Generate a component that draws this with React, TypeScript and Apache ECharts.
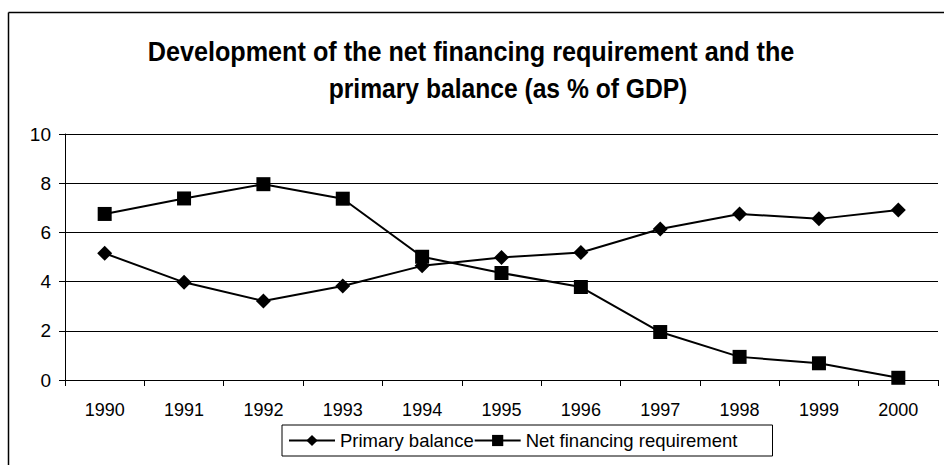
import React, { useEffect, useRef } from "react";
import * as echarts from "echarts";

const years = ["1990", "1991", "1992", "1993", "1994", "1995", "1996", "1997", "1998", "1999", "2000"];
const primaryBalance = [5.15, 3.97, 3.21, 3.82, 4.64, 4.98, 5.18, 6.14, 6.75, 6.55, 6.91];
const netFinancing = [6.75, 7.38, 7.96, 7.37, 5.01, 4.35, 3.78, 1.95, 0.94, 0.68, 0.09];
const titleLines = [
  "Development of the net financing requirement and the",
  "primary balance (as % of GDP)",
];

const FONT = "'Liberation Sans', Arial, sans-serif";

export default function App() {
  const ref = useRef<HTMLDivElement>(null);
  useEffect(() => {
    if (!ref.current) return;
    const chart = echarts.init(ref.current, undefined, { renderer: "svg" });
    chart.setOption({
      animation: false,
      backgroundColor: "#fff",
      textStyle: { fontFamily: FONT, color: "#000" },
      graphic: [
        { type: "line", shape: { x1: 8.5, y1: 12.5, x2: 944, y2: 12.5 }, style: { stroke: "#000", lineWidth: 1.5 } },
        { type: "line", shape: { x1: 8.5, y1: 12.5, x2: 8.5, y2: 465 }, style: { stroke: "#000", lineWidth: 1.5 } },
        {
          type: "text",
          x: 471,
          y: 52,
          scaleX: 0.9,
          style: { text: titleLines[0], font: `bold 28px ${FONT}`, fill: "#000", align: "center", verticalAlign: "middle" },
        },
        {
          type: "text",
          x: 508,
          y: 88,
          scaleX: 0.88,
          style: { text: titleLines[1], font: `bold 28px ${FONT}`, fill: "#000", align: "center", verticalAlign: "middle" },
        },
      ],
      grid: { left: 65, right: 6, top: 134, bottom: 85, containLabel: false },
      legend: {
        left: 282,
        top: 425,
        orient: "horizontal",
        itemWidth: 46,
        itemHeight: 14,
        itemGap: 0,
        padding: [6, 35, 6, 6],
        borderColor: "#000",
        borderWidth: 1,
        textStyle: { fontFamily: FONT, fontSize: 18.5, color: "#000" },
        data: ["Primary balance", "Net financing requirement"],
      },
      xAxis: {
        type: "category",
        data: years,
        boundaryGap: true,
        axisLine: { lineStyle: { color: "#000", width: 1 } },
        axisTick: { show: true, length: 6, lineStyle: { color: "#000" } },
        axisLabel: { fontFamily: FONT, fontSize: 18, color: "#000", margin: 21 },
      },
      yAxis: {
        type: "value",
        min: 0,
        max: 10,
        interval: 2,
        axisLine: { show: true, lineStyle: { color: "#000", width: 1 } },
        axisTick: { show: true, length: 6, lineStyle: { color: "#000" } },
        axisLabel: { fontFamily: FONT, fontSize: 19, color: "#000", margin: 14 },
        splitLine: { show: true, lineStyle: { color: "#000", width: 1 } },
      },
      series: [
        {
          name: "Primary balance",
          type: "line",
          data: primaryBalance,
          symbol: "diamond",
          symbolSize: 15,
          color: "#000",
          lineStyle: { color: "#000", width: 2 },
          itemStyle: { color: "#000" },
        },
        {
          name: "Net financing requirement",
          type: "line",
          data: netFinancing,
          symbol: "rect",
          symbolSize: 14,
          color: "#000",
          lineStyle: { color: "#000", width: 2 },
          itemStyle: { color: "#000" },
        },
      ],
    });
    return () => chart.dispose();
  }, []);
  return <div ref={ref} style={{ position: "absolute", left: 0, top: 0, width: 944, height: 465 }} />;
}
